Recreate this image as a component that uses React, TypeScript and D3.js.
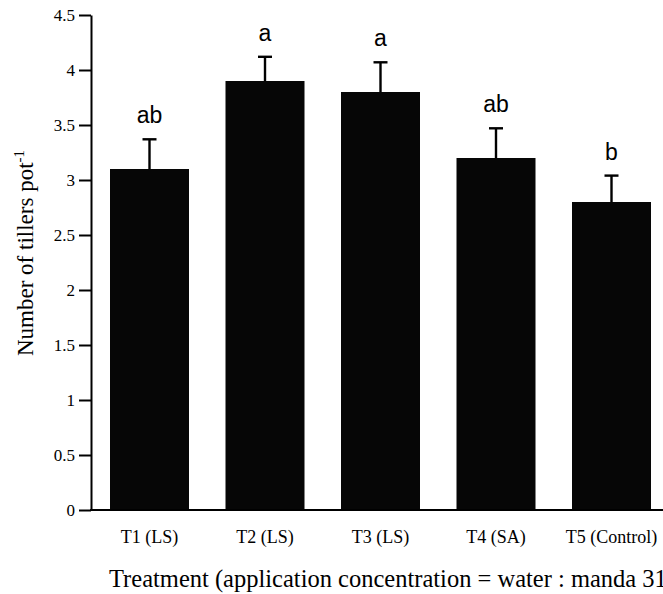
import React, { Component } from 'react';
import * as D3 from 'd3';

const treatments = ['T1 (LS)', 'T2 (LS)', 'T3 (LS)', 'T4 (SA)', 'T5 (Control)'];
const tillers = [3.1, 3.9, 3.8, 3.2, 2.8];
const errors = [0.27, 0.22, 0.27, 0.27, 0.24];
const letters = ['ab', 'a', 'a', 'ab', 'b'];
const yTicks = [0, 0.5, 1, 1.5, 2, 2.5, 3, 3.5, 4, 4.5];

export default class App extends Component
{
	svg: any = null;

	constructor(props: any)
	{
		super(props);
		this.width = 663;
		this.height = 594;
		this.margin = { top: 15, right: 0, bottom: 84, left: 91 };
	}

	width: number;
	height: number;
	margin: any;

	render = () =>
	(
		<div style={{ position: 'absolute', left: 0, top: 0, width: this.width + 'px', height: this.height + 'px', background: 'white' }}>
			<svg ref={e => { this.svg = e; }} width={this.width} height={this.height}></svg>
		</div>
	)

	componentDidMount()
	{
		const svg = D3.select(this.svg);
		svg.selectAll('*').remove();

		const serif = '"Liberation Serif", "Times New Roman", serif';
		const sans = '"Liberation Sans", Arial, sans-serif';
		const y0 = this.height - this.margin.bottom;

		// - scales
		const x = D3.scaleBand().domain(treatments).range([this.margin.left, 670]).paddingInner(0.316).paddingOuter(0.1645);
		const y = D3.scaleLinear().domain([0, 4.5]).range([y0, this.margin.top]);

		// - bars
		svg.append('g').selectAll('rect').data(treatments).enter().append('rect')
			.attr('x', d => x(d))
			.attr('y', (d, i) => y(tillers[i]))
			.attr('width', x.bandwidth())
			.attr('height', (d, i) => y0 - y(tillers[i]))
			.attr('fill', '#060606');

		// - error bars (upper only)
		const eb = svg.append('g').attr('stroke', '#000').attr('stroke-width', 2.4);
		treatments.forEach((d, i) =>
		{
			const cx = x(d) + x.bandwidth() / 2;
			const top = y(tillers[i] + errors[i]);
			eb.append('line').attr('x1', cx).attr('x2', cx).attr('y1', y(tillers[i])).attr('y2', top);
			eb.append('line').attr('x1', cx - 7).attr('x2', cx + 7).attr('y1', top).attr('y2', top);

			svg.append('text')
				.attr('x', cx)
				.attr('y', top - 16)
				.attr('text-anchor', 'middle')
				.attr('font-family', sans)
				.attr('font-size', 23)
				.attr('fill', '#000')
				.text(letters[i]);
		});

		// - y axis
		const yAxis = svg.append('g')
			.attr('transform', 'translate(' + this.margin.left + ',0)')
			.attr('font-family', serif)
			.call(D3.axisLeft(y).tickValues(yTicks).tickSize(12).tickPadding(4).tickSizeOuter(0).tickFormat(D3.format('~g')));
		yAxis.attr('font-family', serif).attr('font-size', 17);
		yAxis.select('.domain').attr('stroke-width', 2);
		yAxis.selectAll('.tick line').attr('stroke-width', 2);
		yAxis.selectAll('.tick text').attr('fill', '#000');

		// - x axis line
		svg.append('line')
			.attr('x1', this.margin.left - 1).attr('x2', this.width)
			.attr('y1', y0).attr('y2', y0)
			.attr('stroke', '#000').attr('stroke-width', 2);

		// - category labels
		svg.append('g').selectAll('text').data(treatments).enter().append('text')
			.attr('x', d => x(d) + x.bandwidth() / 2)
			.attr('y', 543)
			.attr('text-anchor', 'middle')
			.attr('font-family', serif)
			.attr('font-size', 18)
			.attr('fill', '#000')
			.text(d => d);

		// - axis titles
		svg.append('text')
			.attr('x', 109)
			.attr('y', 587)
			.attr('font-family', serif)
			.attr('font-size', 24.5)
			.attr('fill', '#000')
			.text('Treatment (application concentration = water : manda 31');

		const yt = svg.append('text')
			.attr('transform', 'translate(33,253) rotate(-90)')
			.attr('text-anchor', 'middle')
			.attr('font-family', serif)
			.attr('font-size', 23)
			.attr('fill', '#000');
		yt.append('tspan').text('Number of tillers pot');
		yt.append('tspan').attr('dy', -9).attr('font-size', 15).text('-1');
	}
}
